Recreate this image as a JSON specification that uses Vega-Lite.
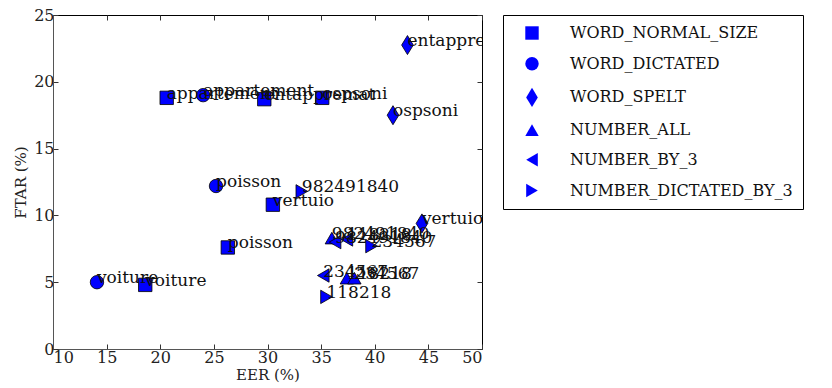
{
  "$schema": "https://vega.github.io/schema/vega-lite/v6.json",
  "width": 429,
  "height": 334,
  "autosize": {"type": "none"},
  "padding": {"left": 53, "top": 15, "right": 350, "bottom": 39},
  "background": "white",
  "config": {
    "view": {"stroke": "#000", "strokeWidth": 1},
    "font": "DejaVu Serif",
    "axis": {
      "grid": false,
      "domainColor": "#555",
      "tickColor": "#333",
      "tickSize": -5,
      "labelFont": "DejaVu Serif",
      "labelFontSize": 16,
      "labelColor": "#222",
      "titleFont": "DejaVu Serif",
      "titleFontSize": 15,
      "titleFontWeight": "normal",
      "titleColor": "#222"
    }
  },
  "data": {
    "values": [
      {"type": "WORD_NORMAL_SIZE", "label": "appartement", "eer": 20.6, "ftar": 18.8},
      {"type": "WORD_NORMAL_SIZE", "label": "entappremat", "eer": 29.7, "ftar": 18.7},
      {"type": "WORD_NORMAL_SIZE", "label": "ospsoni", "eer": 35.1, "ftar": 18.8},
      {"type": "WORD_NORMAL_SIZE", "label": "vertuio", "eer": 30.5, "ftar": 10.8},
      {"type": "WORD_NORMAL_SIZE", "label": "poisson", "eer": 26.3, "ftar": 7.6},
      {"type": "WORD_NORMAL_SIZE", "label": "voiture", "eer": 18.6, "ftar": 4.8},
      {"type": "WORD_DICTATED", "label": "appartement", "eer": 24.0, "ftar": 19.0},
      {"type": "WORD_DICTATED", "label": "poisson", "eer": 25.2, "ftar": 12.2},
      {"type": "WORD_DICTATED", "label": "voiture", "eer": 14.1, "ftar": 5.0},
      {"type": "WORD_SPELT", "label": "entappremat", "eer": 43.05, "ftar": 22.75},
      {"type": "WORD_SPELT", "label": "ospsoni", "eer": 41.7, "ftar": 17.5},
      {"type": "WORD_SPELT", "label": "vertuio", "eer": 44.4, "ftar": 9.4},
      {"type": "NUMBER_ALL", "label": "982491840", "eer": 36.0, "ftar": 8.3},
      {"type": "NUMBER_ALL", "label": "118218", "eer": 37.4, "ftar": 5.3},
      {"type": "NUMBER_ALL", "label": "234567", "eer": 38.1, "ftar": 5.3},
      {"type": "NUMBER_BY_3", "label": "234567", "eer": 35.2, "ftar": 5.5},
      {"type": "NUMBER_BY_3", "label": "982491840", "eer": 36.3, "ftar": 8.0},
      {"type": "NUMBER_BY_3", "label": "118218", "eer": 37.4, "ftar": 8.2},
      {"type": "NUMBER_DICTATED_BY_3", "label": "982491840", "eer": 33.2, "ftar": 11.8},
      {"type": "NUMBER_DICTATED_BY_3", "label": "234567", "eer": 39.7, "ftar": 7.7},
      {"type": "NUMBER_DICTATED_BY_3", "label": "118218", "eer": 35.5, "ftar": 3.9}
    ]
  },
  "layer": [
    {
      "mark": {"type": "point", "filled": true, "fill": "#0000ff", "stroke": "#000", "strokeWidth": 0.8, "opacity": 1, "size": 180},
      "encoding": {
        "x": {"field": "eer", "type": "quantitative", "scale": {"domain": [10, 50], "nice": false},
              "axis": {"values": [10, 15, 20, 25, 30, 35, 40, 45, 50], "title": "EER (%)", "labelPadding": 5, "titlePadding": 2}},
        "y": {"field": "ftar", "type": "quantitative", "scale": {"domain": [0, 25], "nice": false},
              "axis": {"values": [0, 5, 10, 15, 20, 25], "title": "FTAR (%)", "labelPadding": 4, "titlePadding": 5}},
        "shape": {
          "field": "type", "type": "nominal",
          "scale": {
            "domain": ["WORD_NORMAL_SIZE", "WORD_DICTATED", "WORD_SPELT", "NUMBER_ALL", "NUMBER_BY_3", "NUMBER_DICTATED_BY_3"],
            "range": ["square", "circle", "M0,-1.42L0.87,0L0,1.42L-0.87,0Z", "triangle-up", "triangle-left", "triangle-right"]
          },
          "legend": {
            "title": null, "orient": "none", "legendX": 450, "legendY": 0,
            "strokeColor": "#000", "fillColor": "white", "padding": 10,
            "labelFont": "DejaVu Serif", "labelFontSize": 16, "labelColor": "#111", "labelLimit": 500,
            "symbolSize": 180, "symbolFillColor": "#0000ff", "symbolStrokeColor": "#000", "symbolStrokeWidth": 0.8,
            "symbolOffset": 11, "labelOffset": 30, "rowPadding": 12.7
          }
        }
      }
    },
    {
      "mark": {"type": "text", "align": "left", "baseline": "middle", "dx": 0, "dy": -4, "fontSize": 17, "font": "DejaVu Serif", "color": "#111", "clip": true},
      "encoding": {
        "x": {"field": "eer", "type": "quantitative",
              "axis": {"orient": "top", "labels": false, "title": null, "domain": false, "values": [10, 15, 20, 25, 30, 35, 40, 45, 50]}},
        "y": {"field": "ftar", "type": "quantitative",
              "axis": {"orient": "right", "labels": false, "title": null, "domain": false, "values": [0, 5, 10, 15, 20, 25]}},
        "text": {"field": "label"}
      }
    }
  ],
  "resolve": {"axis": {"x": "independent", "y": "independent"}}
}
